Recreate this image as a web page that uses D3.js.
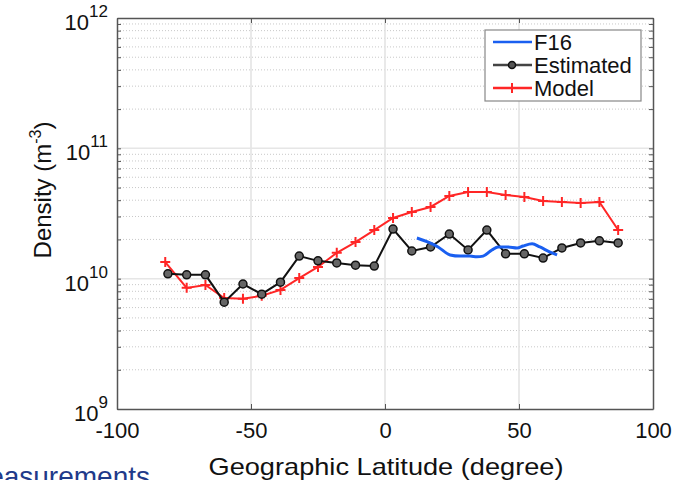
<!DOCTYPE html>
<html>
<head>
<meta charset="utf-8">
<script src="https://cdn.jsdelivr.net/npm/d3@7"></script>
<style>
  body { margin: 0; background: #fff; }
  text { font-family: "Liberation Sans", Arial, sans-serif; }
</style>
</head>
<body>
<script>
// latitude (degree) and density (m^-3)
const latEstimated = [-81, -74, -67, -60, -53, -46, -39, -32, -25, -18, -11, -4, 3, 10, 17, 24, 31, 38, 45, 52, 59, 66, 73, 80, 87];
const estimated = [1.09e10, 1.07e10, 1.07e10, 6.6e9, 9.1e9, 7.6e9, 9.4e9, 1.49e10, 1.37e10, 1.32e10, 1.27e10, 1.25e10, 2.40e10,
  1.63e10, 1.75e10, 2.20e10, 1.66e10, 2.36e10, 1.55e10, 1.55e10, 1.44e10, 1.72e10, 1.88e10, 1.95e10, 1.88e10];

const latModel = [-82, -74, -67, -60, -53, -46, -39, -32, -25, -18, -11, -4, 3, 10, 17, 24, 31, 38, 45, 52, 59, 66, 73, 80, 87];
const model = [1.34e10, 8.5e9, 8.95e9, 7.1e9, 7.0e9, 7.4e9, 8.2e9, 1.01e10, 1.23e10, 1.58e10, 1.91e10, 2.36e10, 2.92e10,
  3.25e10, 3.55e10, 4.31e10, 4.63e10, 4.63e10, 4.38e10, 4.24e10, 3.95e10, 3.88e10, 3.81e10, 3.88e10, 2.36e10];

const latF16 = [11.9, 16.8, 19.8, 24.3, 28.0, 31.7, 34.3, 36.6, 39.9, 42.2, 45.9, 49.3, 51.5, 54.9, 57.8, 61.6, 64.2];
const f16 = [2.05e10, 1.88e10, 1.75e10, 1.52e10, 1.49e10, 1.49e10, 1.47e10, 1.49e10, 1.66e10, 1.75e10, 1.75e10, 1.72e10,
  1.78e10, 1.85e10, 1.75e10, 1.60e10, 1.52e10];

const xTicks = [-100, -50, 0, 50, 100];
const yTicks = [1e9, 1e10, 1e11, 1e12];
const yExponents = ['9', '10', '11', '12'];
const seriesNames = ['F16', 'Estimated', 'Model'];

const W = 686, H = 480;
const margin = { top: 18, right: 33, bottom: 71, left: 117 };
const width = W - margin.left - margin.right;
const height = H - margin.top - margin.bottom;

const x = d3.scaleLinear().domain([-100, 100]).range([0, width]);
const y = d3.scaleLog().domain([1e9, 1e12]).range([height, 0]);

const svg = d3.select('body').append('svg')
  .attr('width', W).attr('height', H);

const g = svg.append('g')
  .attr('transform', `translate(${margin.left},${margin.top})`);

// minor grid (dotted) at 2..9 x 10^n
const minor = [];
[1e9, 1e10, 1e11].forEach(d => { for (let k = 2; k <= 9; k++) minor.push(k * d); });

g.append('g').selectAll('line').data(minor).join('line')
  .attr('x1', 0).attr('x2', width)
  .attr('y1', d => y(d)).attr('y2', d => y(d))
  .attr('stroke', '#c8c8c8').attr('stroke-width', 1)
  .attr('stroke-dasharray', '1,2');

// major grid
g.append('g').selectAll('line').data(xTicks.slice(1, -1)).join('line')
  .attr('x1', d => x(d)).attr('x2', d => x(d))
  .attr('y1', 0).attr('y2', height)
  .attr('stroke', '#e2e2e2').attr('stroke-width', 1.5);

g.append('g').selectAll('line').data(yTicks.slice(1, -1)).join('line')
  .attr('x1', 0).attr('x2', width)
  .attr('y1', d => y(d)).attr('y2', d => y(d))
  .attr('stroke', '#e6e6e6').attr('stroke-width', 1.5);

// axes with inward ticks
const axisColor = '#555';
function styleAxis(sel) {
  sel.select('.domain').attr('stroke', axisColor).attr('stroke-width', 1.5);
  sel.selectAll('.tick line').attr('stroke', axisColor);
}

const xAxis = g.append('g')
  .attr('transform', `translate(0,${height})`)
  .call(d3.axisBottom(x).tickValues(xTicks).tickSizeInner(-5).tickSizeOuter(0).tickPadding(13)
    .tickFormat(d => String(d)))
  .call(styleAxis);
xAxis.selectAll('text').attr('font-size', 22).attr('fill', '#111')
  .attr('font-family', '"Liberation Sans", Arial, sans-serif');

g.append('g')
  .call(d3.axisTop(x).tickValues(xTicks).tickSizeInner(-5).tickSizeOuter(0).tickFormat(''))
  .call(styleAxis);

g.append('g')
  .call(d3.axisLeft(y).tickValues(yTicks.concat(minor)).tickSizeInner(-4).tickSizeOuter(0).tickFormat(''))
  .call(styleAxis);

g.append('g')
  .attr('transform', `translate(${width},0)`)
  .call(d3.axisRight(y).tickValues(yTicks.concat(minor)).tickSizeInner(-4).tickSizeOuter(0).tickFormat(''))
  .call(styleAxis);

// y tick labels 10^n
const yLab = g.append('g').selectAll('text').data(yTicks).join('text')
  .attr('x', -9).attr('y', d => y(d) + 12)
  .attr('text-anchor', 'end').attr('font-size', 22).attr('fill', '#111');
yLab.append('tspan').text('10');
yLab.append('tspan').attr('dy', -13).attr('font-size', 17).text((d, i) => yExponents[i]);

// y axis title, its white box hides part of the tick labels
const yTitle = svg.append('g').attr('transform', 'translate(43,190)');
yTitle.append('rect').attr('x', -14).attr('y', -82).attr('width', 30).attr('height', 178).attr('fill', '#fff');
const yt = yTitle.append('text').attr('transform', 'rotate(-90)')
  .attr('text-anchor', 'middle').attr('font-size', 24).attr('fill', '#111').attr('dy', 8);
yt.append('tspan').text('Density (m');
yt.append('tspan').attr('dy', -10).attr('font-size', 16).text('-3');
yt.append('tspan').attr('dy', 10).text(')');

// x axis title
svg.append('text')
  .attr('x', margin.left + x(0) + 1).attr('y', 475)
  .attr('text-anchor', 'middle').attr('font-size', 24).attr('fill', '#111')
  .attr('textLength', 355).attr('lengthAdjust', 'spacingAndGlyphs')
  .text('Geographic Latitude (degree)');

// caption cut off by the bottom edge
svg.append('text')
  .attr('x', 150).attr('y', 486)
  .attr('text-anchor', 'end').attr('font-size', 28).attr('fill', '#1f3a8a')
  .text('Measurements');

// series
const line = d3.line().x(d => x(d[0])).y(d => y(d[1]));
const estPts = latEstimated.map((d, i) => [d, estimated[i]]);
const modPts = latModel.map((d, i) => [d, model[i]]);
const f16Pts = latF16.map((d, i) => [d, f16[i]]);

const red = '#ff2626', black = '#111', blue = '#1a5ff0';

g.append('path').datum(modPts).attr('d', line)
  .attr('fill', 'none').attr('stroke', red).attr('stroke-width', 2);
g.append('g').selectAll('path').data(modPts).join('path')
  .attr('d', d => `M${x(d[0]) - 5},${y(d[1])}h10M${x(d[0])},${y(d[1]) - 5}v10`)
  .attr('stroke', red).attr('stroke-width', 2);

g.append('path').datum(estPts).attr('d', line)
  .attr('fill', 'none').attr('stroke', black).attr('stroke-width', 2);
g.append('g').selectAll('circle').data(estPts).join('circle')
  .attr('cx', d => x(d[0])).attr('cy', d => y(d[1])).attr('r', 4)
  .attr('fill', '#666').attr('stroke', black).attr('stroke-width', 1.5);

g.append('path').datum(f16Pts).attr('d', d3.line().curve(d3.curveMonotoneX).x(d => x(d[0])).y(d => y(d[1])))
  .attr('fill', 'none').attr('stroke', blue).attr('stroke-width', 3);

// legend
const lg = svg.append('g').attr('transform', 'translate(485,30)');
lg.append('rect').attr('width', 156).attr('height', 71)
  .attr('fill', '#fff').attr('stroke', '#888').attr('stroke-width', 1.2);
const colors = [blue, '#444', red];
const item = lg.selectAll('g.item').data(seriesNames).join('g')
  .attr('class', 'item').attr('transform', (d, i) => `translate(0,${12 + i * 23})`);
item.append('line').attr('x1', 8).attr('x2', 47)
  .attr('stroke', (d, i) => colors[i]).attr('stroke-width', 2.5);
item.filter((d, i) => i === 1).append('circle').attr('cx', 27).attr('r', 3.5)
  .attr('fill', '#555').attr('stroke', black).attr('stroke-width', 1.5);
item.filter((d, i) => i === 2).append('line').attr('x1', 27).attr('x2', 27).attr('y1', -5).attr('y2', 5)
  .attr('stroke', red).attr('stroke-width', 2);
item.append('text').attr('x', 49).attr('dy', '0.36em')
  .attr('font-size', 22).attr('fill', '#111').text(d => d);
</script>
</body>
</html>
